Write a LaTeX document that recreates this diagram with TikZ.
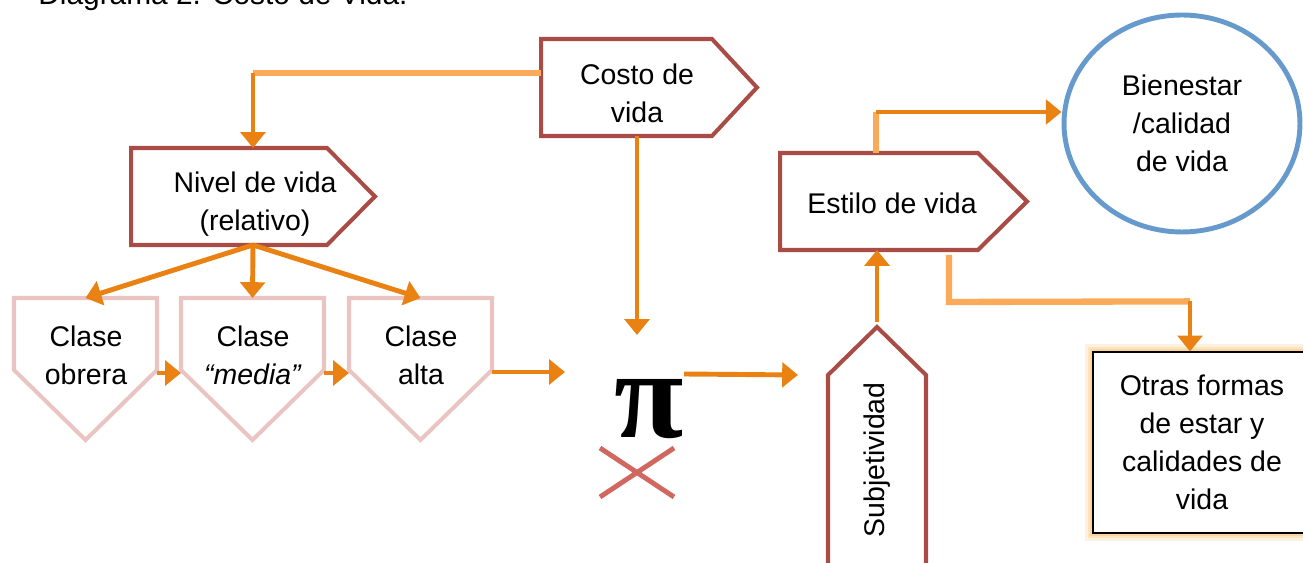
\documentclass[tikz,border=0pt]{standalone}
\usepackage{fontspec}
\setmainfont{Liberation Sans}
\newfontfamily\pifont{Liberation Serif}
\usetikzlibrary{arrows.meta,calc,shapes.geometric}

\definecolor{rojizo}{RGB}{168,76,69}
\definecolor{rosado}{RGB}{234,196,194}
\definecolor{naranja}{RGB}{233,130,18}
\definecolor{naranjaclaro}{RGB}{250,170,88}
\definecolor{azul}{RGB}{102,153,204}
\definecolor{cruzrojo}{RGB}{208,104,96}
\definecolor{brillo}{RGB}{252,214,160}

\tikzset{
	caja/.style={draw=none, inner sep=0pt, outer sep=0pt},
	txt/.style={align=center, inner sep=0pt, font=\fontsize{16.2}{21.5}\selectfont},
	formaroja/.style={draw=rojizo, line width=2.3pt},
	formarosa/.style={draw=rosado, line width=2.3pt},
	flechanar/.style={draw=naranja, line width=2.8pt, -{Triangle[width=14pt,length=9pt]}},
	lineaclara/.style={draw=naranjaclaro, line width=3.6pt},
}

\begin{document}
\begin{tikzpicture}[x=0.02cm, y=-0.02cm]
	\useasboundingbox (0,0) rectangle (1303,563);
	
	%Titulo
	\node[inner sep=0pt, anchor=base west, font=\fontsize{17}{20}\selectfont] (titulo) at (38,5) {Diagrama 2. Costo de Vida.};
	
	%Costo de vida
	\node[caja, minimum width=4.32cm, minimum height=1.94cm] (costo) at (649,87.5) {};
	\draw[formaroja] (costo.north west) -- ($(costo.north east)+(-45,0)$) -- (costo.east) -- ($(costo.south east)+(-45,0)$) -- (costo.south west) -- cycle;
	\node[txt] (costo-t) at (637,93) {Costo de\\vida};
	
	%Nivel de vida
	\node[caja, minimum width=4.88cm, minimum height=1.94cm] (nivel) at (253,196.5) {};
	\draw[formaroja] (nivel.north west) -- ($(nivel.north east)+(-48,0)$) -- (nivel.east) -- ($(nivel.south east)+(-48,0)$) -- (nivel.south west) -- cycle;
	\node[txt] (nivel-t) at (255,204) {Nivel de vida\\(relativo)};
	
	%Clases
	\node[caja, minimum width=2.86cm, minimum height=2.84cm] (clase1) at (85.5,369) {};
	\node[caja, minimum width=2.86cm, minimum height=2.84cm] (clase2) at (252.5,369) {};
	\node[caja, minimum width=2.86cm, minimum height=2.84cm] (clase3) at (420.5,369) {};
	\foreach \c in {clase1,clase2,clase3}
		\draw[formarosa] (\c.north west) -- (\c.north east) -- ($(\c.south east)+(0,-70)$) -- (\c.south) -- ($(\c.south west)+(0,-70)$) -- cycle;
	\node[txt] (clase1-t) at (86,355) {Clase\\obrera};
	\node[txt] (clase2-t) at (253,355) {Clase\\\textit{“media”}};
	\node[txt] (clase3-t) at (421,355) {Clase\\alta};
	
	%Pi y cruz
	\node[inner sep=0pt, font=\pifont\bfseries\fontsize{72}{72}\selectfont] (pi) at (649,409) {π};
	\draw[draw=cruzrojo, line width=2.8pt] (600,448) -- (674,497) (600,497) -- (674,448);
	
	%Estilo de vida
	\node[caja, minimum width=4.94cm, minimum height=1.94cm] (estilo) at (903.5,201.5) {};
	\draw[formaroja] (estilo.north west) -- ($(estilo.north east)+(-49,0)$) -- (estilo.east) -- ($(estilo.south east)+(-49,0)$) -- (estilo.south west) -- cycle;
	\node[txt] (estilo-t) at (892,203) {Estilo de vida};
	
	%Subjetividad
	\node[caja, minimum width=1.96cm, minimum height=5.46cm] (subj) at (877,463.5) {};
	\draw[formaroja] (subj.south west) -- ($(subj.north west)+(0,48)$) -- (subj.north) -- ($(subj.north east)+(0,48)$) -- (subj.south east) -- cycle;
	\node[txt, rotate=90] (subj-t) at (877,460) {Subjetividad};
	
	%Bienestar
	\node[txt, ellipse, draw=azul, line width=2.8pt, minimum width=4.72cm, minimum height=4.34cm] (bien) at (1182,123.5) {Bienestar\\/calidad\\de vida};
	
	%Otras formas
	\node[txt, draw=black, fill=white, line width=0.7pt, minimum width=4.36cm, minimum height=3.62cm,
		preaction={draw=brillo!35, line width=9pt}, preaction={draw=brillo!65, line width=6pt},
		preaction={draw=brillo, line width=3pt}] (otras) at (1202,442.5) {Otras formas\\de estar y\\calidades de\\vida};
	
	%Conectores
	\coordinate (c1) at ($(costo.north west)+(0,34)$);
	\coordinate (c2) at (nivel.north |- c1);
	\draw[lineaclara] (c1) -- (c2);
	\draw[flechanar] (c2) -- (nivel.north);
	
	\coordinate (c3) at ($(costo.south)+(-12,0)$);
	\coordinate (pi-arriba) at (637,335);
	\draw[flechanar] (c3) -- (pi-arriba);
	
	\draw[flechanar] (nivel.south) -- (clase1.north);
	\draw[flechanar] (nivel.south) -- (clase2.north);
	\draw[flechanar] (nivel.south) -- (clase3.north);
	
	\draw[flechanar] ($(clase1.east)+(0,4)$) -- ($(clase2.west)+(0,4)$);
	\draw[flechanar] ($(clase2.east)+(0,4)$) -- ($(clase3.west)+(0,4)$);
	\coordinate (pi-izq) at (565,372);
	\draw[flechanar] ($(clase3.east)+(0,3)$) -- (pi-izq);
	
	\coordinate (pi-der) at (798,375);
	\draw[flechanar] ($(pi.north east)+(0,-5)$) -- (pi-der);
	
	\draw[flechanar] ($(subj.north)+(0,-5)$) -- (subj.north |- estilo.south);
	
	\coordinate (e1) at ($(estilo.north west)+(96,0)$);
	\coordinate (e2) at ($(e1)+(0,-41)$);
	\draw[lineaclara] (e1) -- (e2);
	\draw[flechanar] (e2) -- (bien.west |- e2);
	
	\coordinate (e3) at ($(estilo.south west)+(169,5)$);
	\coordinate (e4) at ($(e3)+(0,47)$);
	\coordinate (e5) at ($(otras.north)+(-12,-50)$);
	\draw[lineaclara] (e3) -- (e4) -- (e5);
	\draw[flechanar] (e5) -- (e5 |- otras.north);
	
\end{tikzpicture}
\end{document}
